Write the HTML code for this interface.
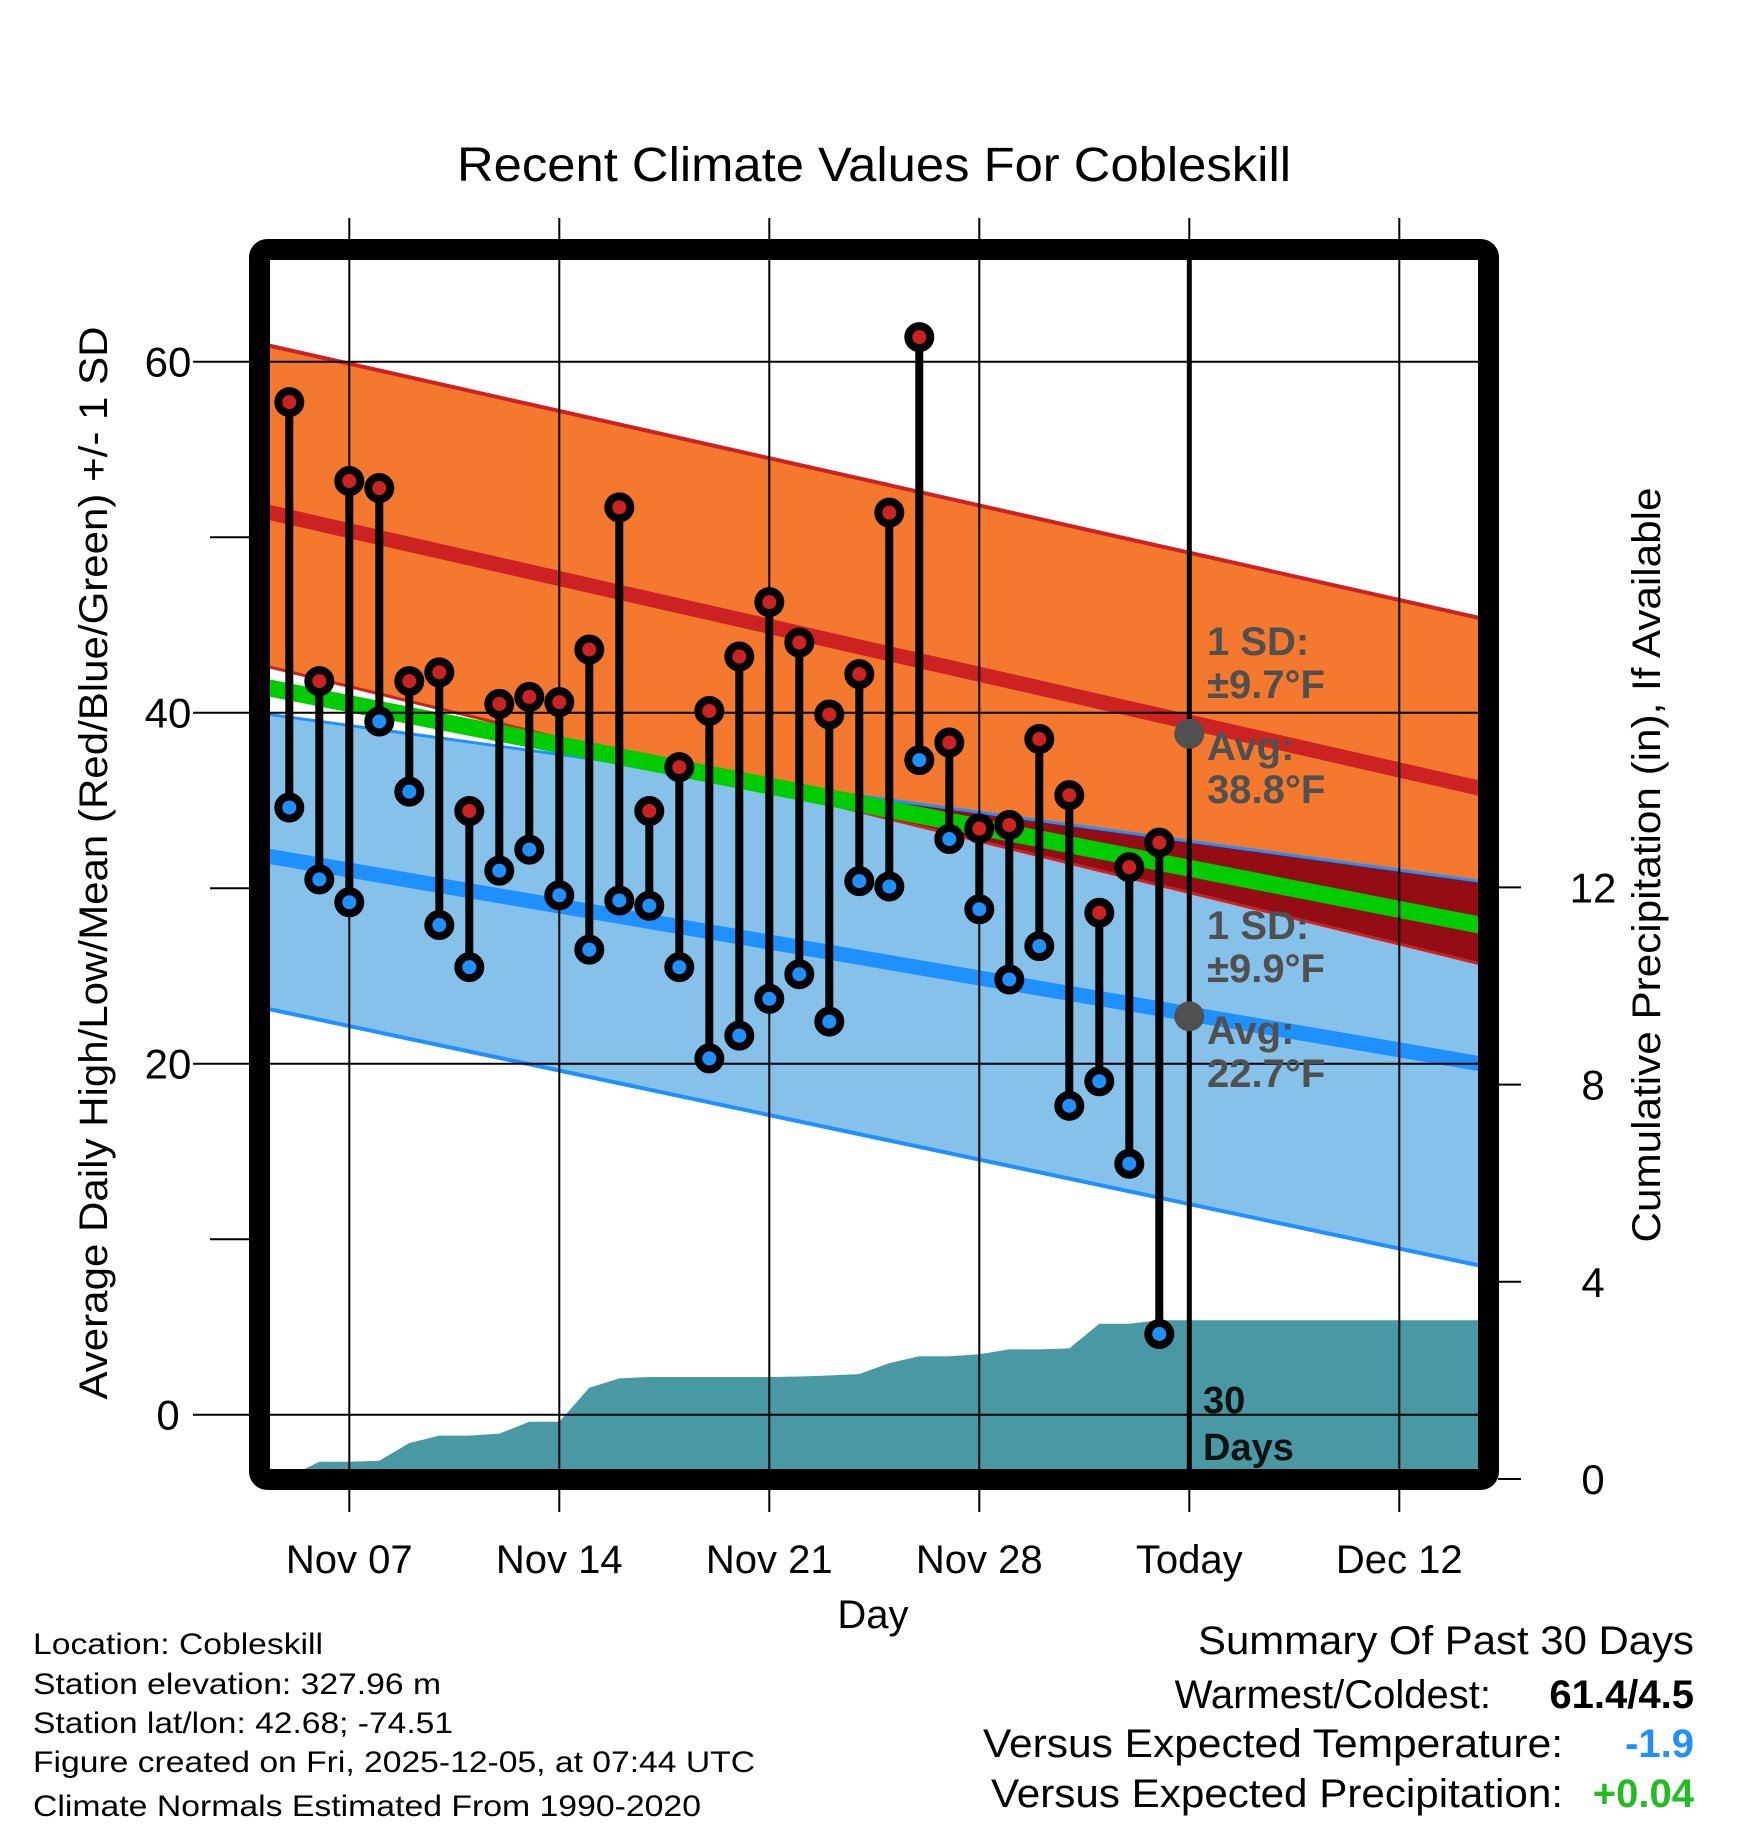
<!DOCTYPE html>
<html><head><meta charset="utf-8"><style>
html,body{margin:0;padding:0;background:#fff;}
svg{display:block;font-family:"Liberation Sans",Arial,sans-serif;}
</style></head><body>
<svg id="chart" width="1748" height="1828" viewBox="0 0 1748 1828" xmlns="http://www.w3.org/2000/svg">
<defs><clipPath id="plotclip"><rect x="270" y="260" width="1208" height="1210"/></clipPath></defs>
<text x="874" y="181" font-size="48" text-anchor="middle" textLength="834" lengthAdjust="spacingAndGlyphs">Recent Climate Values For Cobleskill</text>
<g id="bands" clip-path="url(#plotclip)"></g>
<g id="grid"></g>
<g id="marks"></g>
<g id="annot"></g>
<rect x="259.5" y="249.5" width="1229" height="1230" rx="8" fill="none" stroke="#000" stroke-width="21"/>
<g id="axes"></g>
<text transform="translate(107,863) rotate(-90)" font-size="40" text-anchor="middle" textLength="1073" lengthAdjust="spacingAndGlyphs">Average Daily High/Low/Mean (Red/Blue/Green) +/- 1 SD</text>
<text transform="translate(1660,865) rotate(-90)" font-size="40" text-anchor="middle" textLength="755" lengthAdjust="spacingAndGlyphs">Cumulative Precipitation (in), If Available</text>
<text x="873" y="1628" font-size="40" text-anchor="middle">Day</text>
<g font-size="30">
<text x="33" y="1654" textLength="290" lengthAdjust="spacingAndGlyphs">Location: Cobleskill</text>
<text x="33" y="1694" textLength="408" lengthAdjust="spacingAndGlyphs">Station elevation: 327.96 m</text>
<text x="33" y="1733" textLength="420" lengthAdjust="spacingAndGlyphs">Station lat/lon: 42.68; -74.51</text>
<text x="33" y="1772" textLength="722" lengthAdjust="spacingAndGlyphs">Figure created on Fri, 2025-12-05, at 07:44 UTC</text>
<text x="33" y="1816" textLength="668" lengthAdjust="spacingAndGlyphs">Climate Normals Estimated From 1990-2020</text>
</g>
<g font-size="40">
<text x="1694" y="1654" text-anchor="end" textLength="496" lengthAdjust="spacingAndGlyphs">Summary Of Past 30 Days</text>
<text x="1491" y="1708" text-anchor="end">Warmest/Coldest:</text>
<text x="1694" y="1708" text-anchor="end" font-weight="bold">61.4/4.5</text>
<text x="1563" y="1757" text-anchor="end" textLength="580" lengthAdjust="spacingAndGlyphs">Versus Expected Temperature:</text>
<text x="1694" y="1757" text-anchor="end" font-weight="bold" fill="#1e90ff">-1.9</text>
<text x="1563" y="1807" text-anchor="end" textLength="572" lengthAdjust="spacingAndGlyphs">Versus Expected Precipitation:</text>
<text x="1694" y="1807" text-anchor="end" font-weight="bold" fill="#22bb22">+0.04</text>
</g>
</svg>
<script>
// ---- data ----
const dayLabels = ["Nov 05","Nov 06","Nov 07","Nov 08","Nov 09","Nov 10","Nov 11","Nov 12","Nov 13","Nov 14","Nov 15","Nov 16","Nov 17","Nov 18","Nov 19","Nov 20","Nov 21","Nov 22","Nov 23","Nov 24","Nov 25","Nov 26","Nov 27","Nov 28","Nov 29","Nov 30","Dec 01","Dec 02","Dec 03","Dec 04"];
const highs = [57.7,41.8,53.2,52.8,41.8,42.3,34.4,40.5,40.9,40.6,43.6,51.7,34.4,36.9,40.1,43.2,46.3,44.0,39.9,42.2,51.4,61.4,38.3,33.4,33.6,38.5,35.3,28.6,31.2,32.6];
const lows = [34.6,30.5,29.2,39.5,35.5,27.9,25.5,31.0,32.2,29.6,26.5,29.3,29.0,25.5,20.3,21.6,23.7,25.1,22.4,30.4,30.1,37.3,32.8,28.8,24.8,26.7,17.6,19.0,14.3,4.6];
const precip = [0.05,0.35,0.35,0.37,0.73,0.88,0.88,0.92,1.16,1.16,1.85,2.04,2.07,2.07,2.07,2.07,2.07,2.08,2.10,2.13,2.35,2.49,2.49,2.53,2.63,2.63,2.65,3.15,3.15,3.22];
const normDays = [-1, 40];
const normHighUpper = [61.04, 45.27];
const normHighMean = [51.54, 35.57];
const normHighLower = [42.75, 25.56];
const normMean = [41.52, 27.79];
const normLowUpper = [39.98, 30.32];
const normLowMean = [31.91, 19.91];
const normLowLower = [23.23, 8.38];
const xTickDays = [2, 9, 16, 23, 30, 37];
const xTickLabels = ["Nov 07","Nov 14","Nov 21","Nov 28","Today","Dec 12"];
const yTicks = [0, 20, 40, 60];
const yMinor = [10, 30, 50];
const pTicks = [0, 4, 8, 12];
const todayIndex = 30;
const todayHighAvg = 38.8, todayLowAvg = 22.7;
const lastPrecipDay = 39.7;

// ---- axes ----
const xDay = d => 289.3 + 30 * d;
const yT = v => 1414.7 - 17.55 * v;
const yP = p => 1479 - 49.3 * p;
const NS = "http://www.w3.org/2000/svg";
function mk(tag, attrs, parent) { const el = document.createElementNS(NS, tag); for (const k in attrs) el.setAttribute(k, attrs[k]); parent.appendChild(el); return el; }
const interp = (arr, d) => arr[0] + (arr[1] - arr[0]) * (d - normDays[0]) / (normDays[1] - normDays[0]);
const gBands = document.getElementById('bands'), gGrid = document.getElementById('grid'), gMarks = document.getElementById('marks'), gAnnot = document.getElementById('annot'), gAxes = document.getElementById('axes');

function bandPath(up, lo) {
  const a = normDays[0], b = normDays[1];
  return `M${xDay(a)},${yT(interp(up,a))} L${xDay(b)},${yT(interp(up,b))} L${xDay(b)},${yT(interp(lo,b))} L${xDay(a)},${yT(interp(lo,a))}Z`;
}
let el;
el = mk('path', {d: bandPath(normLowUpper, normLowLower), fill: '#85c1e8'}, gBands);


el = mk('path', {d: bandPath(normHighUpper, normHighLower), fill: '#f4792e'}, gBands);


const ovTop = [], ovBot = [];
for (let i = 0; i <= 200; i++) {
  const d = normDays[0] + (normDays[1] - normDays[0]) * i / 200;
  const t = Math.min(interp(normHighUpper, d), interp(normLowUpper, d));
  const bt = Math.max(interp(normHighLower, d), interp(normLowLower, d));
  ovTop.push([xDay(d), yT(Math.max(t, bt))]); ovBot.push([xDay(d), yT(bt)]);
}
ovBot.reverse();
el = mk('path', {d: 'M' + ovTop.map(p => p.join(',')).join(' L') + ' L' + ovBot.map(p => p.join(',')).join(' L') + 'Z', fill: '#950d14'}, gBands);


function line(arr, color, w, name) {
  const l = mk('line', {x1: xDay(normDays[0]), y1: yT(arr[0]), x2: xDay(normDays[1]), y2: yT(arr[1]), stroke: color, 'stroke-width': w}, gBands);
  
  
}
line(normHighUpper, '#cc2222', 4, 'high-upper-sd-line');
line(normHighLower, '#cc2222', 3, 'high-lower-sd-line');
line(normLowUpper, '#1e90ff', 3, 'low-upper-sd-line');
line(normLowLower, '#1e90ff', 4, 'low-lower-sd-line');
line(normHighMean, '#cc2222', 15, 'high-mean-line');
line(normLowMean, '#1e90ff', 15, 'low-mean-line');
line(normMean, '#00cc00', 17, 'mean-line');
let pd = `M${xDay(-0.7)},1475 L${xDay(-0.7)},${yP(0)} `;
precip.forEach((p, i) => { pd += `L${xDay(i)},${yP(p)} `; });
pd += `L${xDay(lastPrecipDay)},${yP(precip[precip.length - 1])} L${xDay(lastPrecipDay)},1475Z`;
el = mk('path', {d: pd, fill: '#4899a3'}, gBands);



xTickDays.forEach((d, i) => {
  const g = mk('line', {x1: xDay(d), y1: 218, x2: xDay(d), y2: 1512, stroke: '#000', 'stroke-width': 2}, gGrid);
  
  
  const t = mk('text', {x: xDay(d), y: 1573, 'font-size': 40, 'text-anchor': 'middle'}, gAxes);
  t.textContent = xTickLabels[i];
  
  
});
yTicks.forEach(v => {
  const g = mk('line', {x1: 193, y1: yT(v), x2: 1478, y2: yT(v), stroke: '#000', 'stroke-width': 2}, gGrid);
  
  
  const t = mk('text', {x: 168, y: yT(v) + 15, 'font-size': 42, 'text-anchor': 'middle'}, gAxes);
  t.textContent = v;
  
  
});
yMinor.forEach(v => {
  const g = mk('line', {x1: 210, y1: yT(v), x2: 250, y2: yT(v), stroke: '#000', 'stroke-width': 2}, gAxes);
  
  
});
pTicks.forEach(p => {
  const g = mk('line', {x1: 1498, y1: yP(p), x2: 1521, y2: yP(p), stroke: '#000', 'stroke-width': 2}, gAxes);
  
  
  const t = mk('text', {x: 1593, y: yP(p) + 15, 'font-size': 42, 'text-anchor': 'middle'}, gAxes);
  t.textContent = p;
  
  
});
el = mk('line', {x1: xDay(todayIndex), y1: 260, x2: xDay(todayIndex), y2: 1470, stroke: '#000', 'stroke-width': 5}, gGrid);



highs.forEach((h, i) => {
  const x = xDay(i);
  const s = mk('line', {x1: x, y1: yT(h), x2: x, y2: yT(lows[i]), stroke: '#000', 'stroke-width': 8}, gMarks);
  
  
});
highs.forEach((h, i) => {
  const x = xDay(i);
  const c1 = mk('circle', {cx: x, cy: yT(h), r: 11, fill: '#cc2222', stroke: '#000', 'stroke-width': 8}, gMarks);
  
  
  const c2 = mk('circle', {cx: x, cy: yT(lows[i]), r: 11, fill: '#1e90ff', stroke: '#000', 'stroke-width': 8}, gMarks);
  
  
});

const tx = xDay(todayIndex);
el = mk('circle', {cx: tx, cy: yT(todayHighAvg), r: 15, fill: '#505050'}, gAnnot);


el = mk('circle', {cx: tx, cy: yT(todayLowAvg), r: 15, fill: '#505050'}, gAnnot);


const ann = [["1 SD:",655],["±9.7°F",698],["Avg:",760],[todayHighAvg.toFixed(1)+"°F",803],["1 SD:",939],["±9.9°F",982],["Avg:",1044],[todayLowAvg.toFixed(1)+"°F",1087]];
ann.forEach(a => {
  const t = mk('text', {x: 1207, y: a[1], 'font-size': 40, 'font-weight': 'bold', fill: '#505050'}, gAnnot);
  t.textContent = a[0];
  
  
});
[["30",1413],["Days",1460]].forEach(a => {
  const t = mk('text', {x: 1203, y: a[1], 'font-size': 38, 'font-weight': 'bold', fill: '#111'}, gAnnot);
  t.textContent = a[0];
  
  
});
</script>
</body></html>
